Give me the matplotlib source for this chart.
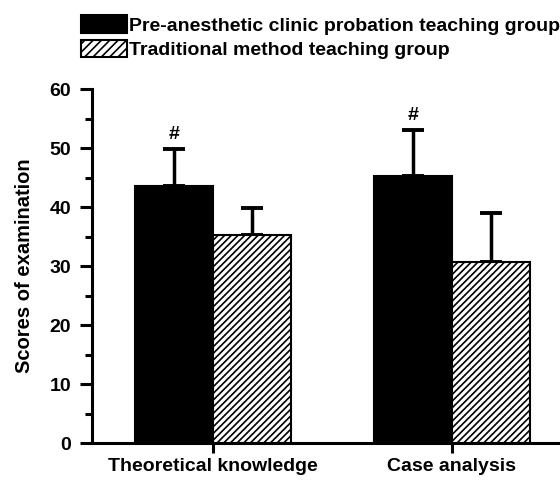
import matplotlib.pyplot as plt
from matplotlib.patches import Patch
from matplotlib.ticker import MultipleLocator

plt.rcParams['font.family'] = ['Liberation Sans', 'DejaVu Sans']
plt.rcParams['hatch.linewidth'] = 1.2

categories = ["Theoretical knowledge", "Case analysis"]
groups = ["Pre-anesthetic clinic probation teaching group", "Traditional method teaching group"]
pre_mean = [43.5, 45.3]
pre_sd = [6.4, 7.8]
trad_mean = [35.3, 30.6]
trad_sd = [4.5, 8.3]

fig = plt.figure(figsize=(5.6, 4.84), dpi=100)
ax = fig.add_axes([0.1643, 0.0847, 0.871, 0.7314])

w = 0.326
x = [0, 1]
x_pre = [i - w / 2 for i in x]
x_trad = [i + w / 2 for i in x]

ax.bar(x_pre, pre_mean, w, color='black', edgecolor='black', linewidth=1.5, zorder=2)
ax.bar(x_trad, trad_mean, w, color='white', edgecolor='black', hatch='/////', linewidth=1.5, zorder=2)

ax.errorbar(x_pre, pre_mean, yerr=[[0, 0], pre_sd], fmt='none', ecolor='black',
            elinewidth=2.5, capsize=8, capthick=2.8, zorder=1)
ax.errorbar(x_trad, trad_mean, yerr=[[0, 0], trad_sd], fmt='none', ecolor='black',
            elinewidth=2.5, capsize=8, capthick=2.8, zorder=1)

for xi, m, s in zip(x_pre, pre_mean, pre_sd):
    ax.text(xi, m + s + 0.9, '#', ha='center', va='bottom', fontsize=14, fontweight='bold')

ax.set_xlim(-0.506, 1.536)
ax.set_ylim(0, 60)
ax.set_xticks(x)
ax.set_xticklabels(categories, fontsize=14, fontweight='bold')
ax.yaxis.set_major_locator(MultipleLocator(10))
ax.yaxis.set_minor_locator(MultipleLocator(5))
for lab in ax.get_yticklabels():
    lab.set_fontweight('bold')
    lab.set_fontsize(14)
ax.tick_params(axis='y', which='major', length=9, width=2.2, pad=6)
ax.tick_params(axis='y', which='minor', length=5, width=2.2)
ax.tick_params(axis='x', length=7, width=2.2, pad=4)
ax.set_ylabel("Scores of examination", fontsize=14.5, fontweight='bold', labelpad=11)

for side in ['top', 'right']:
    ax.spines[side].set_visible(False)
for side in ['left', 'bottom']:
    ax.spines[side].set_linewidth(2.2)

handles = [Patch(facecolor='black', edgecolor='black', linewidth=1.5),
           Patch(facecolor='white', edgecolor='black', hatch='////', linewidth=1.5)]
fig.legend(handles, groups, loc='upper left', bbox_to_anchor=(0.145, 0.968), frameon=False,
           prop={'weight': 'bold', 'size': 14}, handlelength=2.35, handleheight=1.0,
           handletextpad=0.1, labelspacing=0.25, borderaxespad=0, borderpad=0)

fig.savefig('out.png', dpi=100)
